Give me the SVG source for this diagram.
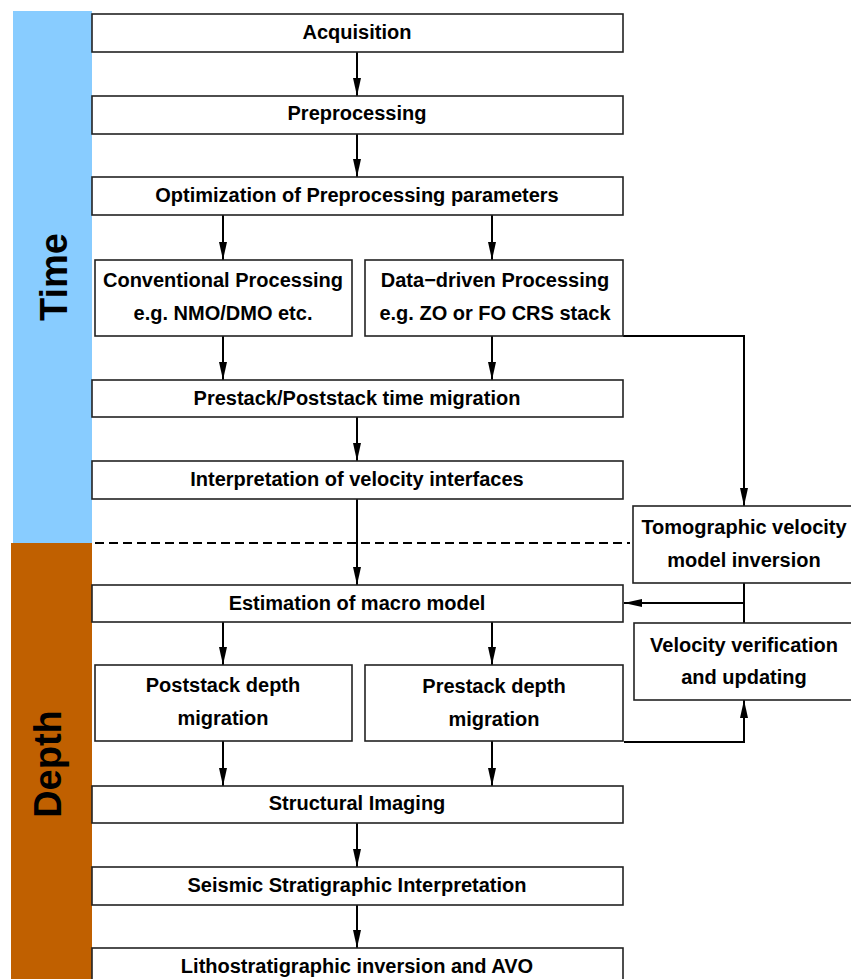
<svg xmlns="http://www.w3.org/2000/svg" width="851" height="979" viewBox="0 0 851 979">
<defs>
<style>
.box{fill:#fff;stroke:#222;stroke-width:1.6}
.t{font-family:"Liberation Sans",Arial,sans-serif;font-weight:bold;font-size:20px;fill:#000;text-anchor:middle}
.side{font-family:"Liberation Sans",Arial,sans-serif;font-weight:bold;font-size:38px;fill:#000;text-anchor:middle}
.ln{fill:none;stroke:#000;stroke-width:2}
.dash{fill:none;stroke:#000;stroke-width:2;stroke-dasharray:9 5}
</style>
<marker id="ah" markerWidth="18" markerHeight="8" refX="18" refY="4" orient="auto" markerUnits="userSpaceOnUse">
<path d="M0,0 L18,4 L0,8 Z" fill="#000"/>
</marker>
</defs>
<rect width="851" height="979" fill="#fff"/>
<g id="time-band">
<rect x="13" y="11" width="79" height="532" fill="#88CCFF"/>
<text class="side" transform="translate(67,277) rotate(-90)">Time</text>
</g>
<g id="depth-band">
<rect x="11" y="543" width="81" height="436" fill="#C06000"/>
<text class="side" transform="translate(61,764) rotate(-90)">Depth</text>
</g>
<g id="connectors">
<line class="ln" x1="357" y1="52" x2="357" y2="96" marker-end="url(#ah)"/>
<line class="ln" x1="357" y1="134" x2="357" y2="177" marker-end="url(#ah)"/>
<line class="ln" x1="223" y1="215" x2="223" y2="260" marker-end="url(#ah)"/>
<line class="ln" x1="492" y1="215" x2="492" y2="260" marker-end="url(#ah)"/>
<line class="ln" x1="223" y1="336" x2="223" y2="380" marker-end="url(#ah)"/>
<line class="ln" x1="492" y1="336" x2="492" y2="380" marker-end="url(#ah)"/>
<line class="ln" x1="357" y1="417" x2="357" y2="461" marker-end="url(#ah)"/>
<line class="ln" x1="357" y1="499" x2="357" y2="585" marker-end="url(#ah)"/>
<line class="dash" x1="95" y1="543" x2="630" y2="543"/>
<polyline class="ln" points="623,336 744,336 744,506" marker-end="url(#ah)"/>
<line class="ln" x1="744" y1="583" x2="744" y2="623"/>
<line class="ln" x1="744" y1="603" x2="624" y2="603" marker-end="url(#ah)"/>
<polyline class="ln" points="624,742 744,742 744,700" marker-end="url(#ah)"/>
<line class="ln" x1="223" y1="622" x2="223" y2="665" marker-end="url(#ah)"/>
<line class="ln" x1="492" y1="622" x2="492" y2="665" marker-end="url(#ah)"/>
<line class="ln" x1="223" y1="741" x2="223" y2="786" marker-end="url(#ah)"/>
<line class="ln" x1="492" y1="741" x2="492" y2="786" marker-end="url(#ah)"/>
<line class="ln" x1="357" y1="823" x2="357" y2="867" marker-end="url(#ah)"/>
<line class="ln" x1="357" y1="905" x2="357" y2="948" marker-end="url(#ah)"/>
</g>
<g id="acquisition"><rect class="box" x="92" y="14" width="531" height="38"/><text class="t" x="357" y="39">Acquisition</text></g>
<g id="preprocessing"><rect class="box" x="92" y="96" width="531" height="38"/><text class="t" x="357" y="120">Preprocessing</text></g>
<g id="optimization"><rect class="box" x="92" y="177" width="531" height="38"/><text class="t" x="357" y="202">Optimization of Preprocessing parameters</text></g>
<g id="conventional"><rect class="box" x="95" y="260" width="257" height="76"/><text class="t" x="223" y="287">Conventional Processing</text><text class="t" x="223" y="320">e.g. NMO/DMO etc.</text></g>
<g id="datadriven"><rect class="box" x="365" y="260" width="258" height="76"/><text class="t" x="495" y="287">Data−driven Processing</text><text class="t" x="495" y="320">e.g. ZO or FO CRS stack</text></g>
<g id="timemigration"><rect class="box" x="92" y="380" width="531" height="37"/><text class="t" x="357" y="405">Prestack/Poststack time migration</text></g>
<g id="interpretation"><rect class="box" x="92" y="461" width="531" height="38"/><text class="t" x="357" y="486">Interpretation of velocity interfaces</text></g>
<g id="tomographic"><rect class="box" x="633" y="506" width="222" height="77"/><text class="t" x="744" y="534">Tomographic velocity</text><text class="t" x="744" y="567">model inversion</text></g>
<g id="macromodel"><rect class="box" x="92" y="585" width="531" height="37"/><text class="t" x="357" y="610">Estimation of macro model</text></g>
<g id="verification"><rect class="box" x="634" y="623" width="222" height="77"/><text class="t" x="744" y="652">Velocity verification</text><text class="t" x="744" y="684">and updating</text></g>
<g id="poststackdepth"><rect class="box" x="95" y="665" width="257" height="76"/><text class="t" x="223" y="692">Poststack depth</text><text class="t" x="223" y="725">migration</text></g>
<g id="prestackdepth"><rect class="box" x="365" y="665" width="258" height="76"/><text class="t" x="494" y="693">Prestack depth</text><text class="t" x="494" y="726">migration</text></g>
<g id="structural"><rect class="box" x="92" y="786" width="531" height="37"/><text class="t" x="357" y="810">Structural Imaging</text></g>
<g id="seismic"><rect class="box" x="92" y="867" width="531" height="38"/><text class="t" x="357" y="892">Seismic Stratigraphic Interpretation</text></g>
<g id="litho"><rect class="box" x="92" y="948" width="531" height="40"/><text class="t" x="357" y="973">Lithostratigraphic inversion and AVO</text></g>
</svg>
